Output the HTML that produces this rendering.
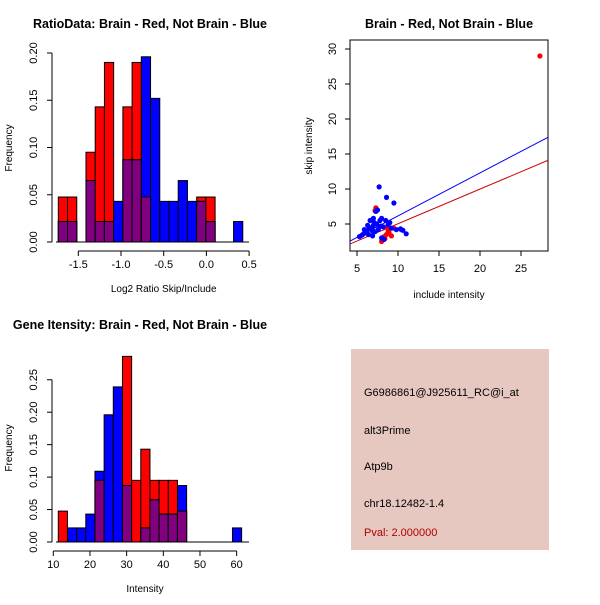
<!DOCTYPE html>
<html><head><meta charset="utf-8"><style>
body{margin:0;background:#fff}
svg text{font-family:"Liberation Sans",sans-serif;}
</style></head><body>
<svg id="s" width="600" height="600" xmlns="http://www.w3.org/2000/svg">
<rect width="600" height="600" fill="#fff"/>
<text x="150" y="28" font-size="12.5" font-weight="bold" text-anchor="middle">RatioData: Brain - Red, Not Brain - Blue</text>
<text x="449" y="28" font-size="12.5" font-weight="bold" text-anchor="middle">Brain - Red, Not Brain - Blue</text>
<text x="140" y="329" font-size="12.5" font-weight="bold" text-anchor="middle">Gene Itensity: Brain - Red, Not Brain - Blue</text>
<g id="h1"></g>
<g id="h2"></g>
<g id="sc"></g>
<g>
<rect x="351" y="349" width="198" height="201" fill="#e6c8c0"/>
<text x="364" y="396" font-size="11">G6986861@J925611_RC@i_at</text>
<text x="364" y="434" font-size="11">alt3Prime</text>
<text x="364" y="470" font-size="11">Atp9b</text>
<text x="364" y="507" font-size="11">chr18.12482-1.4</text>
<text x="364" y="536" font-size="11" fill="#b00000">Pval: 2.000000</text>
</g>
</svg>
<script>
// Ratio histogram data
const ratioStart = -1.734, ratioWidth = 0.108;
const ratioRed  = [0.0476,0.0476,0,0.095,0.143,0.19,0,0.143,0.19,0.0476,0,0,0,0,0,0.0476,0.0476,0,0,0];
const ratioBlue = [0.0217,0.0217,0,0.065,0.0217,0.0217,0.043,0.087,0.087,0.196,0.152,0.043,0.043,0.065,0.043,0.043,0.0217,0,0,0.0217];
const ratioXTicks = [-1.5,-1.0,-0.5,0.0,0.5];
const ratioXLabels = ["-1.5","-1.0","-0.5","0.0","0.5"];
const ratioYTicks = [0,0.05,0.10,0.15,0.20];
const ratioYLabels = ["0.00","0.05","0.10","0.15","0.20"];
// Intensity histogram data
const intStart = 11.36, intWidth = 2.5;
const intRed  = [0.0476,0,0,0,0.095,0,0,0.286,0.095,0.143,0.095,0.095,0.095,0.0476,0,0,0,0,0,0];
const intBlue = [0,0.0217,0.0217,0.043,0.109,0.196,0.239,0.087,0,0.0217,0.065,0.043,0.043,0.087,0,0,0,0,0,0.0217];
const intXTicks = [10,20,30,40,50,60];
const intYTicks = [0,0.05,0.10,0.15,0.20,0.25];
const intYLabels = ["0.00","0.05","0.10","0.15","0.20","0.25"];
// Scatter data
const blueX = [5.3,5.6,5.8,6.0,6.2,6.4,6.5,6.6,6.8,7.0,7.1,7.2,6.9,7.3,7.5,7.7,7.4,7.6,7.8,8.0,8.2,8.0,8.3,8.6,8.8,9.0,9.2,9.5,9.8,10.3,10.6,11.0,6.3,6.9,7.9,5.9,8.5,7.0];
const blueY = [3.2,3.4,3.6,3.8,4.0,3.5,4.3,5.5,4.5,4.8,5.2,3.9,3.3,6.8,7.0,10.3,5.0,4.2,5.5,5.8,4.6,3.0,2.8,8.8,4.9,5.2,4.4,8.0,4.2,4.3,4.1,3.6,4.8,4.0,4.7,4.2,5.5,5.8];
const redX = [7.3,7.2,8.0,8.3,8.6,8.8,8.9,9.2,9.5,10.4,8.4,8.7,27.3];
const redY = [7.3,6.9,2.5,3.2,3.5,4.0,3.8,3.3,4.4,4.2,2.9,4.5,29.0];
const blueLine = [0.02,0.614];
const redLine = [0.09,0.495];
const scXTicks = [5,10,15,20,25];
const scYTicks = [5,10,15,20,25,30];

const NS="http://www.w3.org/2000/svg";
function mk(p,t,a){const e=document.createElementNS(NS,t);for(const k in a)e.setAttribute(k,a[k]);p.appendChild(e);return e;}

function hist(g,start,w,red,blue,sx,sy,y0,xt,xl,yt,yl,xLabel,axX0,axX1,xAxisY,yAxisX,yLabY){
  for(let i=0;i<red.length;i++){
    const a=start+i*w,b=a+w,x=sx(a),wd=sx(b)-sx(a);
    const r=red[i],bl=blue[i];
    if(r>0){const e=mk(g,'rect',{x:x,y:sy(r),width:wd,height:y0-sy(r),fill:'#ff0000',stroke:'#000','stroke-width':1});
      }
    if(bl>0){const e=mk(g,'rect',{x:x,y:sy(bl),width:wd,height:y0-sy(bl),fill:'#0000ff',stroke:'#000','stroke-width':1});
      }
    if(r>0&&bl>0){const m=Math.min(r,bl);const e=mk(g,'rect',{x:x,y:sy(m),width:wd,height:y0-sy(m),fill:'#800080',stroke:'#000','stroke-width':1});
      }
  }
  mk(g,'line',{x1:axX0,x2:axX1,y1:y0,y2:y0,stroke:'#000'});
  mk(g,'line',{x1:sx(xt[0]),x2:sx(xt[xt.length-1]),y1:xAxisY,y2:xAxisY,stroke:'#000'});
  xt.forEach((v,i)=>{mk(g,'line',{x1:sx(v),x2:sx(v),y1:xAxisY,y2:xAxisY+5,stroke:'#000'});
    const t=mk(g,'text',{x:sx(v),y:xAxisY+17,'font-size':11,'text-anchor':'middle'});t.textContent=xl[i];
    });
  mk(g,'line',{x1:yAxisX,x2:yAxisX,y1:sy(yt[0]),y2:sy(yt[yt.length-1]),stroke:'#000'});
  const lx=yAxisX-15;
  yt.forEach((v,i)=>{mk(g,'line',{x1:yAxisX,x2:yAxisX-5,y1:sy(v),y2:sy(v),stroke:'#000'});
    const t=mk(g,'text',{x:lx,y:sy(v),'font-size':11,'text-anchor':'middle',transform:`rotate(-90 ${lx} ${sy(v)})`});t.textContent=yl[i];
    });
  const xt2=mk(g,'text',{x:(sx(xt[0])+sx(xt[xt.length-1]))/2,y:xAxisY+41,'font-size':10,'text-anchor':'middle'});xt2.textContent=xLabel;
  
  const yt2=mk(g,'text',{x:12,y:yLabY,'font-size':10,'text-anchor':'middle',transform:`rotate(-90 12 ${yLabY})`});yt2.textContent='Frequency';
  
}
{const sx=v=>78.3+(v+1.5)*85.4,sy=v=>242-v*945;
 hist(document.getElementById('h1'),ratioStart,ratioWidth,ratioRed,ratioBlue,sx,sy,242,ratioXTicks,ratioXLabels,ratioYTicks,ratioYLabels,'Log2 Ratio Skip/Include',56,249,251,52,148);}
{const sx=v=>53.3+(v-10)*3.667,sy=v=>542-v*649;
 hist(document.getElementById('h2'),intStart,intWidth,intRed,intBlue,sx,sy,542,intXTicks,intXTicks.map(String),intYTicks,intYLabels,'Intensity',56,249,551,52,448);}
{const g=document.getElementById('sc');const sx=v=>357+(v-5)*8.2,sy=v=>224-(v-5)*7;
 mk(g,'rect',{x:350,y:40,width:198,height:211,fill:'none',stroke:'#000'});
 const cp=mk(g,'clipPath',{id:'cp'});mk(cp,'rect',{x:350,y:40,width:198,height:211});
 const lg=mk(g,'g',{'clip-path':'url(#cp)'});
 const x0=3,x1=30;
 let e=mk(lg,'line',{x1:sx(x0),y1:sy(blueLine[0]+blueLine[1]*x0),x2:sx(x1),y2:sy(blueLine[0]+blueLine[1]*x1),stroke:'#0000ff'});
 
 e=mk(lg,'line',{x1:sx(x0),y1:sy(redLine[0]+redLine[1]*x0),x2:sx(x1),y2:sy(redLine[0]+redLine[1]*x1),stroke:'#cc0000'});
 
 redX.forEach((v,i)=>{const c=mk(g,'circle',{cx:sx(v),cy:sy(redY[i]),r:2.6,fill:'#ff0000'});
   });
 blueX.forEach((v,i)=>{const c=mk(g,'circle',{cx:sx(v),cy:sy(blueY[i]),r:2.6,fill:'#0000ff'});
   });
 scXTicks.forEach(v=>{mk(g,'line',{x1:sx(v),x2:sx(v),y1:251,y2:256,stroke:'#000'});
   const t=mk(g,'text',{x:sx(v),y:272,'font-size':11,'text-anchor':'middle'});t.textContent=v;
   });
 scYTicks.forEach(v=>{mk(g,'line',{x1:350,x2:345,y1:sy(v),y2:sy(v),stroke:'#000'});
   const t=mk(g,'text',{x:336,y:sy(v),'font-size':11,'text-anchor':'middle',transform:`rotate(-90 336 ${sy(v)})`});t.textContent=v;
   });
 let t=mk(g,'text',{x:449,y:298,'font-size':10,'text-anchor':'middle'});t.textContent='include intensity';
 
 t=mk(g,'text',{x:312,y:146,'font-size':10,'text-anchor':'middle',transform:'rotate(-90 312 146)'});t.textContent='skip intensity';
 
}
</script>
</body></html>
